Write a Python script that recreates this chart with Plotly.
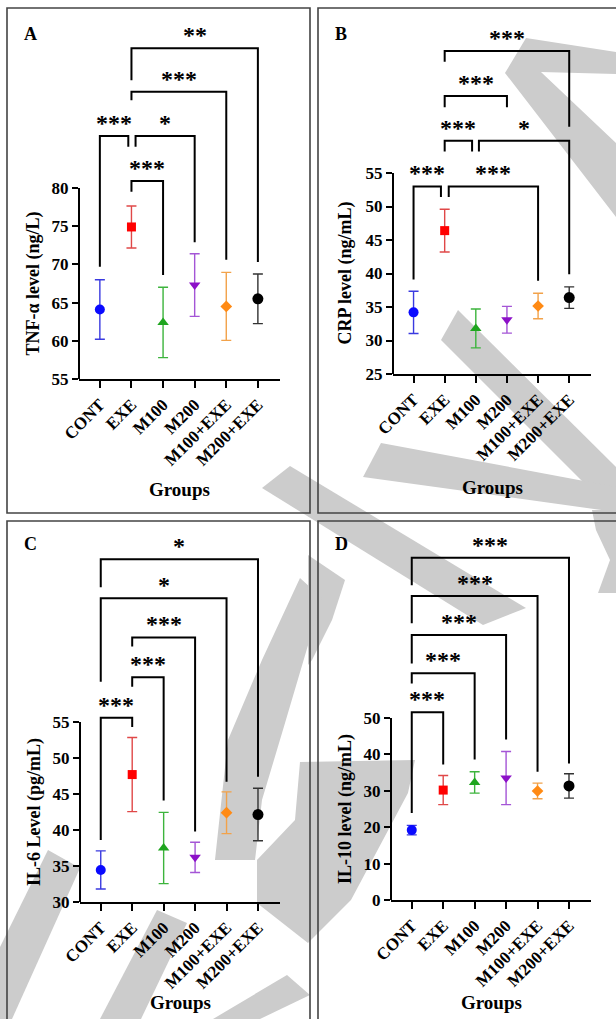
import plotly.graph_objects as go

W, H = 616, 1019

# ---------------- data ----------------
groups = ["CONT", "EXE", "M100", "M200", "M100+EXE", "M200+EXE"]

tnf_mean = [64.1, 74.9, 62.4, 67.3, 64.5, 65.5]
tnf_err = [3.9, 2.75, 4.6, 4.1, 4.45, 3.25]
crp_mean = [34.2, 46.4, 31.8, 33.1, 35.15, 36.4]
crp_err = [3.15, 3.2, 2.9, 2.0, 1.9, 1.6]
il6_mean = [34.45, 47.7, 37.5, 36.2, 42.4, 42.15]
il6_err = [2.65, 5.15, 4.95, 2.1, 2.9, 3.65]
il10_mean = [19.2, 30.2, 32.3, 33.5, 29.95, 31.35]
il10_err = [1.3, 4.0, 2.95, 7.3, 2.15, 3.35]

tnf_ticks = [55, 60, 65, 70, 75, 80]
crp_ticks = [25, 30, 35, 40, 45, 50, 55]
il6_ticks = [30, 35, 40, 45, 50, 55]
il10_ticks = [0, 10, 20, 30, 40, 50]

# significance brackets: group pairs, bar height, leg bottoms, leg offsets, labels
tnf_pairs = [(0, 1), (1, 3), (1, 2), (1, 4), (1, 5)]
tnf_heights = [86.8, 86.8, 80.9, 92.6, 98.3]
tnf_legs = [(69.7, 85.4), (85.4, 72.9), (79.5, 68.6), (91.5, 70.6), (94.1, 70.3)]
tnf_offsets = [(0, -0.1), (0.13, 0), (0, 0), (0, 0), (0, 0)]
tnf_labels = ["***", "*", "***", "***", "**"]

crp_pairs = [(0, 1), (1, 4), (1, 2), (2, 5), (1, 3), (1, 5)]
crp_heights = [53.0, 53.0, 59.8, 59.8, 66.5, 73.2]
crp_legs = [(39.1, 51.4), (51.4, 38.9), (58.2, 58.2), (58.2, 39.9), (64.8, 64.8), (71.6, 61.9)]
crp_offsets = [(0, -0.12), (0.13, 0), (0, -0.12), (0.1, 0), (0, 0), (0, 0)]
crp_labels = ["***", "***", "***", "*", "***", "***"]

il6_pairs = [(0, 1), (1, 2), (1, 3), (0, 4), (0, 5)]
il6_heights = [55.6, 61.2, 66.75, 72.2, 77.6]
il6_legs = [(38.6, 54.3), (59.9, 44.1), (65.5, 39.8), (60.6, 46.7), (73.7, 47.4)]
il6_offsets = [(0, 0)] * 5
il6_labels = ["***", "***", "***", "*", "*"]

il10_pairs = [(0, 1), (0, 2), (0, 3), (0, 4), (0, 5)]
il10_heights = [51.6, 62.3, 72.8, 83.5, 94.0]
il10_legs = [(23.9, 37.2), (59.5, 38.6), (65.0, 44.1), (76.0, 35.2), (86.5, 37.5)]
il10_offsets = [(0, 0)] * 5
il10_labels = ["***", "***", "***", "***", "***"]

# ---------------- style ----------------
FONT = "Liberation Serif"
symbols = ["circle", "square", "triangle-up", "triangle-down", "diamond", "circle"]
mcolors = ["#0a0aff", "#ff0000", "#1fa51f", "#8c10c8", "#ff8a14", "#000000"]
ecolors = ["#3a3ae0", "#e04848", "#3cb43c", "#a455d6", "#f2a24a", "#333333"]
msizes = [10, 9, 10, 10, 9, 11]


def px(x):
    return x / W


def py(y):
    return 1 - y / H


panels = [
    dict(mean=tnf_mean, err=tnf_err, ticks=tnf_ticks, pairs=tnf_pairs, heights=tnf_heights,
         legs=tnf_legs, offs=tnf_offsets, labels=tnf_labels,
         xpx=(79, 280), ylo=(55, 379), yhi=(80, 188), top=15,
         title="TNF-α level (ng/L)", tx=33, letter="A", lpos=(30, 34), gy=489),
    dict(mean=crp_mean, err=crp_err, ticks=crp_ticks, pairs=crp_pairs, heights=crp_heights,
         legs=crp_legs, offs=crp_offsets, labels=crp_labels,
         xpx=(393, 591), ylo=(25, 374), yhi=(55, 173), top=15,
         title="CRP level (ng/mL)", tx=345, letter="B", lpos=(341, 34), gy=487),
    dict(mean=il6_mean, err=il6_err, ticks=il6_ticks, pairs=il6_pairs, heights=il6_heights,
         legs=il6_legs, offs=il6_offsets, labels=il6_labels,
         xpx=(80, 280), ylo=(30, 902), yhi=(55, 722), top=528,
         title="IL-6 Level (pg/mL)", tx=34, letter="C", lpos=(30, 544), gy=1002),
    dict(mean=il10_mean, err=il10_err, ticks=il10_ticks, pairs=il10_pairs, heights=il10_heights,
         legs=il10_legs, offs=il10_offsets, labels=il10_labels,
         xpx=(391, 591), ylo=(0, 900), yhi=(50, 718), top=528,
         title="IL-10 level (ng/mL)", tx=345, letter="D", lpos=(341, 544), gy=1002),
]

fig = go.Figure()
shapes = []
annotations = []
layout = {}
XR = [-0.66, 5.7]

for k, p in enumerate(panels):
    sfx = "" if k == 0 else str(k + 1)
    xa, ya = "x" + sfx, "y" + sfx
    (v0, p0), (v1, p1) = p["ylo"], p["yhi"]
    ppu = (p0 - p1) / (v1 - v0)
    ytop = v0 + (p0 - p["top"]) / ppu
    layout["xaxis" + sfx] = dict(
        domain=[px(p["xpx"][0]), px(p["xpx"][1])], range=XR, anchor=ya, automargin=False,
        tickvals=list(range(len(groups))), ticktext=groups, tickangle=-45,
        ticks="outside", ticklen=7, tickwidth=2, tickcolor="black",
        showline=True, linewidth=2, linecolor="black", showgrid=False, zeroline=False,
        tickfont=dict(family=FONT, size=17, color="black", weight="bold"), fixedrange=True)
    layout["yaxis" + sfx] = dict(
        domain=[py(p0), py(p["top"])], range=[v0, ytop], anchor=xa, automargin=False,
        tickvals=p["ticks"], ticks="outside", ticklen=6, tickwidth=2, tickcolor="black",
        showline=False, showgrid=False, zeroline=False,
        tickfont=dict(family=FONT, size=17, color="black", weight="bold"), fixedrange=True)
    # y axis line only across the tick span
    shapes.append(dict(type="line", xref=xa + " domain", yref=ya, x0=0, x1=0,
                       y0=p["ticks"][0], y1=p["ticks"][-1], line=dict(color="black", width=2)))

    # brackets
    bx, by = [], []
    for (i, j), h, (l1, l2), (d1, d2), lab in zip(p["pairs"], p["heights"], p["legs"], p["offs"], p["labels"]):
        bx += [i + d1, i + d1, j + d2, j + d2, None]
        by += [l1, h, h, l2, None]
        annotations.append(dict(x=(i + d1 + j + d2) / 2, y=h, xref=xa, yref=ya, text=lab,
                                showarrow=False, xanchor="center", yanchor="bottom", yshift=-2,
                                font=dict(family=FONT, size=24, color="black", weight="bold")))
    fig.add_trace(go.Scatter(x=bx, y=by, mode="lines", line=dict(color="black", width=2),
                             xaxis=xa, yaxis=ya, showlegend=False, hoverinfo="skip"))

    # group points with error bars
    for g in range(len(groups)):
        fig.add_trace(go.Scatter(
            x=[g], y=[p["mean"][g]], mode="markers", xaxis=xa, yaxis=ya, showlegend=False,
            marker=dict(symbol=symbols[g], size=msizes[g], color=mcolors[g]),
            error_y=dict(type="data", array=[p["err"][g]], visible=True,
                         color=ecolors[g], thickness=1.4, width=5)))

    # y-axis title
    annotations.append(dict(x=px(p["tx"]), y=(p["ticks"][0] + p["ticks"][-1]) / 2, xref="paper", yref=ya,
                            text=p["title"], textangle=-90, showarrow=False,
                            xanchor="center", yanchor="middle",
                            font=dict(family=FONT, size=18, color="black", weight="bold")))
    # x-axis title
    annotations.append(dict(x=0.5, y=py(p["gy"]), xref=xa + " domain", yref="paper", text="Groups",
                            showarrow=False, xanchor="center", yanchor="middle",
                            font=dict(family=FONT, size=19, color="black", weight="bold")))
    # panel letter
    annotations.append(dict(x=px(p["lpos"][0]), y=py(p["lpos"][1]), xref="paper", yref="paper",
                            text=p["letter"], showarrow=False, xanchor="center", yanchor="middle",
                            font=dict(family=FONT, size=18, color="black", weight="bold")))

# panel frames
for (x0, y0, x1, y1) in [(7, 8, 310, 513), (318, 8, 630, 513), (7, 521, 310, 1030), (318, 521, 630, 1030)]:
    shapes.append(dict(type="rect", xref="paper", yref="paper", x0=px(x0), x1=px(x1),
                       y0=py(y0), y1=py(y1), line=dict(color="#444444", width=1.6),
                       fillcolor="rgba(0,0,0,0)"))


# watermark (light grey strokes behind the charts)
def poly(pts):
    d = "M " + " L ".join(f"{px(a):.4f},{py(b):.4f}" for a, b in pts) + " Z"
    return dict(type="path", xref="paper", yref="paper", path=d, fillcolor="#cccccc",
                line=dict(width=0), layer="below")


wm = [
    [(526, 38), (616, 52), (616, 74), (541, 72), (616, 143), (616, 217), (505, 73)],
    [(458, 310), (616, 467), (616, 515), (441, 340)],
    [(381, 443), (616, 487), (616, 512), (363, 477)],
    [(592, 510), (616, 510), (616, 593), (598, 593), (610, 560), (596, 530)],
    [(262, 488), (290, 466), (526, 608), (483, 625)],
    [(308, 555), (345, 580), (332, 620), (312, 660), (308, 665)],
    [(300, 578), (322, 598), (285, 723), (262, 800), (255, 860), (215, 860), (228, 740), (262, 660)],
    [(300, 762), (415, 760), (408, 793), (351, 900), (308, 943), (257, 903), (257, 860), (295, 820)],
    [(48, 850), (80, 868), (12, 1019), (0, 1019), (0, 947)],
    [(100, 1019), (141, 1019), (187, 923), (157, 910)],
    [(213, 1019), (260, 1019), (310, 995), (287, 975)],
]
for w in wm:
    shapes.append(poly(w))

fig.update_layout(
    width=W, height=H, autosize=False,
    margin=dict(l=0, r=0, t=0, b=0, pad=0, autoexpand=False),
    paper_bgcolor="white", plot_bgcolor="rgba(0,0,0,0)",
    shapes=shapes, annotations=annotations, **layout)

fig.write_html("out.html", config={"responsive": False, "displayModeBar": False},
               post_script="document.body.style.margin='0';document.body.style.overflow='hidden';")
